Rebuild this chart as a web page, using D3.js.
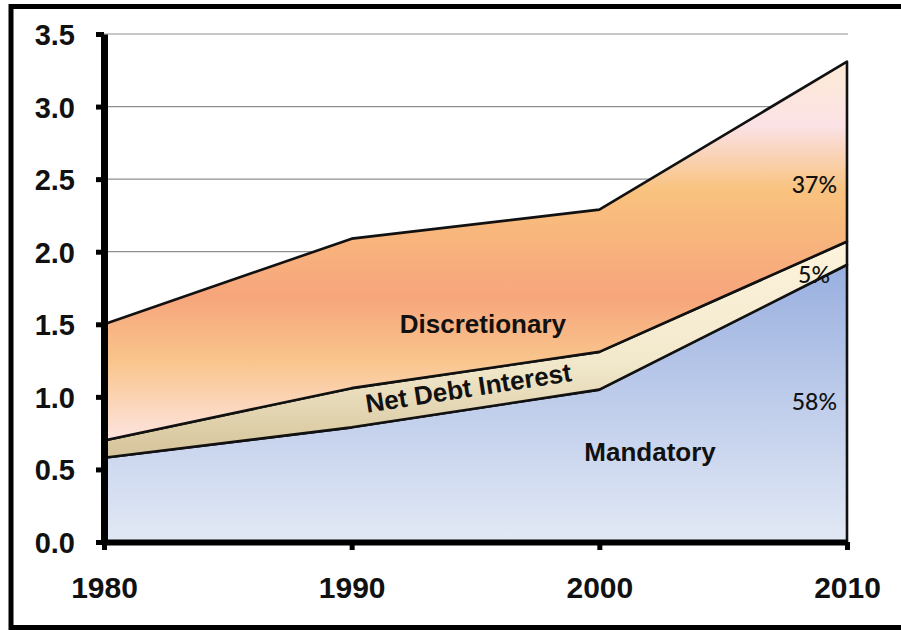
<!DOCTYPE html>
<html>
<head>
<meta charset="utf-8">
<script src="https://cdn.jsdelivr.net/npm/d3@7"></script>
<style>
  html, body { margin: 0; padding: 0; background: #ffffff; }
  svg { display: block; }
</style>
</head>
<body>
<svg id="chart" width="901" height="630"></svg>
<script>
// Federal outlays by category (trillions), stacked bottom to top
const years = [1980, 1990, 2000, 2010];
const mandatory = [0.58, 0.79, 1.05, 1.91];
const netDebtInterest = [0.12, 0.27, 0.26, 0.16];
const discretionary = [0.80, 1.03, 0.98, 1.24];
const seriesNames = ["Mandatory", "Net Debt Interest", "Discretionary"];
const yTicks = [0, 0.5, 1.0, 1.5, 2.0, 2.5, 3.0, 3.5];

const svg = d3.select("#chart");

// Frame around the whole figure
svg.append("rect")
  .attr("x", 11).attr("y", 6.5)
  .attr("width", 900).attr("height", 621)
  .attr("fill", "#ffffff")
  .attr("stroke", "#000").attr("stroke-width", 5);

const x = d3.scaleLinear().domain([1980, 2010]).range([104, 847]);
const y = d3.scaleLinear().domain([0, 3.5]).range([542, 34]);

// Gradients for each band
const defs = svg.append("defs");
function vGrad(id, stops) {
  const g = defs.append("linearGradient").attr("id", id)
    .attr("x1", 0).attr("y1", 0).attr("x2", 0).attr("y2", 1);
  stops.forEach(([o, c]) => g.append("stop").attr("offset", o).attr("stop-color", c));
}
vGrad("gMand", [[0, "#98afdf"], [0.5, "#bfcdeb"], [1, "#e2e9f5"]]);
vGrad("gInt", [[0, "#fef3dc"], [0.55, "#f2e9cd"], [1, "#d5c399"]]);
vGrad("gDisc", [
  [0, "#fdead4"], [0.17, "#fbe2e6"], [0.34, "#f9c27e"],
  [0.62, "#f7a57c"], [0.79, "#f9c58c"], [1, "#fde4e0"]
]);
const fills = ["url(#gMand)", "url(#gInt)", "url(#gDisc)"];

// Horizontal gridlines behind the areas
svg.append("g").selectAll("line")
  .data(yTicks.filter(d => d > 0))
  .join("line")
  .attr("x1", x(1980)).attr("x2", x(2010) + 1)
  .attr("y1", d => y(d)).attr("y2", d => y(d))
  .attr("stroke", "#8f8f8f").attr("stroke-width", 1.2);

// Stack the three series
const rows = years.map((yr, i) => ({
  year: yr,
  "Mandatory": mandatory[i],
  "Net Debt Interest": netDebtInterest[i],
  "Discretionary": discretionary[i]
}));
const stacked = d3.stack().keys(seriesNames)(rows);

const area = d3.area()
  .x(d => x(d.data.year))
  .y0(d => y(d[0]))
  .y1(d => y(d[1]));

svg.append("g").selectAll("path")
  .data(stacked)
  .join("path")
  .attr("d", area)
  .attr("fill", (d, i) => fills[i])
  .attr("stroke", "#111")
  .attr("stroke-width", 2.6)
  .attr("stroke-linejoin", "round");

// Axes
const yAxis = svg.append("g")
  .attr("transform", `translate(${x(1980)},0)`)
  .call(d3.axisLeft(y).tickValues(yTicks).tickFormat(d3.format(".1f"))
    .tickSize(8).tickSizeOuter(0).tickPadding(21));
yAxis.select(".domain").attr("stroke", "#000").attr("stroke-width", 7);
yAxis.selectAll(".tick line").attr("stroke", "#000").attr("stroke-width", 5);
yAxis.selectAll(".tick text")
  .attr("font-family", "'Liberation Sans', Arial, sans-serif")
  .attr("font-weight", "bold").attr("font-size", 29)
  .attr("fill", "#111").attr("dy", "0.36em");

const xAxis = svg.append("g")
  .attr("transform", `translate(0,${y(0)})`)
  .call(d3.axisBottom(x).tickValues(years).tickFormat(d3.format("d"))
    .tickSize(8).tickSizeOuter(0).tickPadding(27));
xAxis.select(".domain").attr("stroke", "#000").attr("stroke-width", 6);
xAxis.selectAll(".tick line").attr("stroke", "#000").attr("stroke-width", 5);
xAxis.selectAll(".tick text")
  .attr("font-family", "'Liberation Sans', Arial, sans-serif")
  .attr("font-weight", "bold").attr("font-size", 30)
  .attr("fill", "#111");

// Category labels inside the bands
const labelFont = "'Liberation Sans', Arial, sans-serif";
svg.append("text")
  .attr("x", x(1995.3)).attr("y", y(1.44))
  .attr("text-anchor", "middle")
  .attr("font-family", labelFont).attr("font-weight", "bold").attr("font-size", 26)
  .attr("fill", "#111").text(seriesNames[2]);

svg.append("text")
  .attr("x", x(2002.05)).attr("y", y(0.56))
  .attr("text-anchor", "middle")
  .attr("font-family", labelFont).attr("font-weight", "bold").attr("font-size", 26)
  .attr("fill", "#111").text(seriesNames[0]);

const ndx = x(1994.77), ndy = y(1.0);
svg.append("text")
  .attr("transform", `translate(${ndx},${ndy}) rotate(-8.8)`)
  .attr("text-anchor", "middle")
  .attr("font-family", labelFont).attr("font-weight", "bold").attr("font-size", 26)
  .attr("fill", "#111").text(seriesNames[1]);

// 2010 shares of the total
const last = years.length - 1;
const total2010 = mandatory[last] + netDebtInterest[last] + discretionary[last];
const pct = d3.format(".0%");
const shares = [
  { text: pct(discretionary[last] / total2010), v: 2.405, dx: -10 },
  { text: pct(netDebtInterest[last] / total2010), v: 1.785, dx: -17 },
  { text: pct(mandatory[last] / total2010), v: 0.91, dx: -10 }
];
svg.append("g").selectAll("text")
  .data(shares)
  .join("text")
  .attr("x", d => x(2010) + d.dx)
  .attr("y", d => y(d.v))
  .attr("text-anchor", "end")
  .attr("font-family", "Lato, 'Open Sans', sans-serif")
  .attr("font-size", 23)
  .attr("font-weight", 500)
  .attr("fill", "#111")
  .text(d => d.text);
</script>
</body>
</html>
